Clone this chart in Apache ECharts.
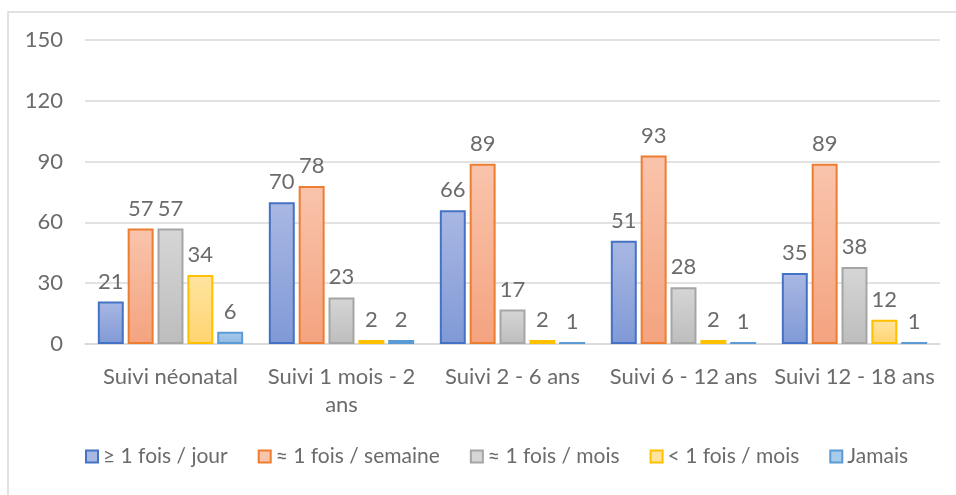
<!DOCTYPE html>
<html>
<head>
<meta charset="utf-8">
<script src="https://cdn.jsdelivr.net/npm/echarts@6/dist/echarts.min.js"></script>
<style>
  html, body { margin: 0; padding: 0; background: #fff; }
  #chart { width: 956px; height: 495px; }
</style>
</head>
<body>
<div id="chart"></div>
<script>
  const categories = ['Suivi néonatal', 'Suivi 1 mois - 2\nans', 'Suivi 2 - 6 ans', 'Suivi 6 - 12 ans', 'Suivi 12 - 18 ans'];
  const seriesNames = ['≥ 1 fois / jour', '≈ 1 fois / semaine', '≈ 1 fois / mois', '< 1 fois / mois', 'Jamais'];
  const parJour = [21, 70, 66, 51, 35];
  const parSemaine = [57, 78, 89, 93, 89];
  const parMois = [57, 23, 17, 28, 38];
  const moinsMois = [34, 2, 2, 2, 12];
  const jamais = [6, 2, 1, 1, 1];
  const yTicks = [0, 30, 60, 90, 120, 150];

  const palette = [
    { top: '#a9b8e3', bottom: '#8099d6', border: '#4472c4' },
    { top: '#f9c4ac', bottom: '#f4a37f', border: '#ed7d31' },
    { top: '#d6d6d6', bottom: '#bdbdbd', border: '#a5a5a5' },
    { top: '#ffe4a0', bottom: '#ffd470', border: '#ffc000' },
    { top: '#a9cbeb', bottom: '#8db8e2', border: '#5b9bd5' }
  ];
  const allData = [parJour, parSemaine, parMois, moinsMois, jamais];

  const textColor = '#6b6b6b';
  const font = 'Lato';

  const chart = echarts.init(document.getElementById('chart'));

  const series = allData.map(function (d, i) {
    return {
      name: seriesNames[i],
      type: 'bar',
      data: d,
      barGap: '15%',
      barCategoryGap: '15%',
      itemStyle: {
        color: new echarts.graphic.LinearGradient(0, 0, 0, 1, [
          { offset: 0, color: palette[i].top },
          { offset: 1, color: palette[i].bottom }
        ]),
        borderColor: palette[i].border,
        borderWidth: 2
      },
      label: {
        show: true,
        position: 'top',
        distance: 9,
        color: textColor,
        fontSize: 22,
        fontFamily: font
      }
    };
  });

  const option = {
    animation: false,
    graphic: [{
      type: 'rect',
      shape: { x: 8, y: 12, width: 1000, height: 600 },
      style: { fill: 'none', stroke: '#d9d9d9', lineWidth: 1.5 },
      silent: true
    }],
    grid: { left: 85, right: 16, top: 40, bottom: 151 },
    legend: {
      bottom: 23,
      left: 80,
      icon: 'rect',
      itemWidth: 12,
      itemHeight: 12,
      itemGap: 30,
      textStyle: { color: textColor, fontSize: 21, fontFamily: font },
      data: seriesNames.map(function (n, i) {
        return { name: n, itemStyle: { color: palette[i].top, borderColor: palette[i].border, borderWidth: 2 } };
      })
    },
    xAxis: {
      type: 'category',
      data: categories,
      axisLine: { lineStyle: { color: '#d9d9d9', width: 1.5 } },
      axisTick: { show: false },
      axisLabel: { color: textColor, fontSize: 22, fontFamily: font, margin: 19, lineHeight: 28, interval: 0 }
    },
    yAxis: {
      type: 'value',
      min: yTicks[0],
      max: yTicks[yTicks.length - 1],
      interval: 30,
      axisLine: { show: false },
      axisTick: { show: false },
      splitLine: { lineStyle: { color: '#d9d9d9', width: 1.5 } },
      axisLabel: { color: textColor, fontSize: 22, fontFamily: font, margin: 22 }
    },
    series: series
  };

  chart.setOption(option);
  window.addEventListener('resize', function () {
    chart.resize();
  });
</script>
</body>
</html>
